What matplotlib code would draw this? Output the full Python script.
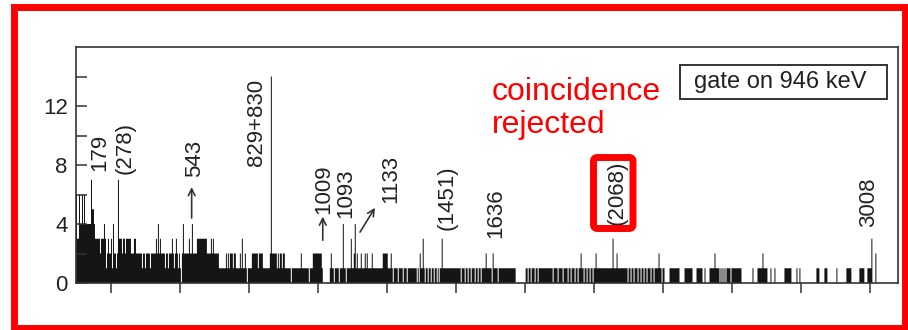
import numpy as np
import matplotlib
matplotlib.use("Agg")
import matplotlib.pyplot as plt
from matplotlib.patches import Rectangle, FancyBboxPatch

plt.rcParams['font.family'] = ['Liberation Sans', 'DejaVu Sans']

# Gamma-ray spectrum in coincidence with the 946 keV gate
bin_start_kev = 123.0
bin_width_kev = 3.62

# counts per bin, one digit per bin, starting at bin_start_kev
counts_digits = "".join([
    "6336446464", "4444455543", "3333233343", "1232231422", "1223332332",
    "3333322233", "2222221221", "2222122222", "3242322221", "2212223212",
    "3212102422", "2223222222", "2333333333", "3222232322", "2221111111",
    "2121222122", "1111213112", "1011112222", "2212222111", "1111222222",
    "2121221221", "1111101111", "1111121111", "1110111222", "2222221000",
    "0000121101", "1110111011", "0111131121", "1211121112", "1211112111",
    "1111111222", "2211121011", "1101111011", "1011111111", "1010211310",
    "1101101101", "1010111111", "1111111111", "1111101110", "1101101110",
    "1101101111", "2111110111", "1101111111", "1111111111", "0000000000",
    "1101101110", "1101111111", "1111111011", "1101111011", "1101101110",
    "1101121101", "1011011011", "2111111111", "1111111111", "1211111111",
    "1101101101", "1101101101", "1011101101", "1112110110", "0000111111",
    "1111000001", "1111111000", "0111111001", "0000111112", "1111010101",
    "0111101111", "1111110000", "0000000100", "0011111211", "1100010001",
    "0000000001", "1111110000", "0100100000", "0000000000", "0111000001",
    "1100000000", "0100000000", "0111110000", "0000111110", "0011111000",
    "2000000000", "000000000000",
])

# labelled transitions (keV) and their peak counts
peak_energy = [179, 278, 543, 830, 1009, 1093, 1133, 1451, 1636, 2068, 3008]
peak_counts = [7, 7, 4, 14, 2, 4, 4, 3, 2, 3, 3]
peak_labels = ["179", "(278)", "543", "829+830", "1009", "1093", "1133",
               "(1451)", "1636", "(2068)", "3008"]
# label anchor (energy, count) for each rotated label
label_x = [210, 301, 551, 778, 1022, 1101, 1264, 1469, 1644, 2082, 2996]
label_y = [7.6, 7.4, 7.2, 7.9, 4.7, 4.4, 5.4, 3.6, 3.05, 3.9, 3.8]

xmin, xmax = 123, 3101
ymin, ymax = 0, 16
x_major = [250, 500, 750, 1000, 1250, 1500, 1750, 2000, 2250, 2500, 2750, 3000]
y_major = [0, 4, 8, 12]
y_minor = [2, 6, 10, 14]

counts = np.array([int(c) for c in counts_digits], dtype=float)
edges = bin_start_kev + bin_width_kev * np.arange(len(counts) + 1)
idx = np.digitize(peak_energy, edges) - 1
counts[idx] = peak_counts

W, H = 908, 330
fig = plt.figure(figsize=(W / 100, H / 100), dpi=100)
ax = fig.add_axes([76 / W, (H - 283) / H, (898 - 76) / W, (283 - 47) / H])

ax.stairs(counts, edges, fill=True, color='#151515', linewidth=0)

ax.set_xlim(xmin, xmax)
ax.set_ylim(ymin, ymax)
ax.set_xticks(x_major)
ax.set_xticklabels([])
ax.set_yticks(y_major)
ax.set_yticks(y_minor, minor=True)
ax.tick_params(axis='y', which='both', direction='in', length=8, width=1.1,
               colors='#333333', labelsize=16, pad=6, labelcolor='#222222')
ax.tick_params(axis='x', which='major', direction='out', length=7, width=1.1,
               colors='#333333')
for s in ax.spines.values():
    s.set_color('#333333')
    s.set_linewidth(1.2)

# rotated peak labels
for lx, ly, txt in zip(label_x, label_y, peak_labels):
    ax.text(lx, ly, txt, rotation=90, ha='center', va='bottom',
            fontsize=16, color='#222222')

arrow_kw = dict(arrowstyle='->', lw=1.2, color='#333333', mutation_scale=12,
                shrinkA=0, shrinkB=0)
ax.annotate('', xy=(542, 6.5), xytext=(542, 4.4), arrowprops=arrow_kw)
ax.annotate('', xy=(1017, 4.5), xytext=(1017, 2.9), arrowprops=arrow_kw)
ax.annotate('', xy=(1206, 5.1), xytext=(1152, 3.45), arrowprops=arrow_kw)

# gate legend box
ax.add_patch(Rectangle((0.735, 0.778), 0.252, 0.146, transform=ax.transAxes,
                       fill=False, edgecolor='#333333', linewidth=1.4))
ax.text(0.857, 0.851, "gate on 946 keV", transform=ax.transAxes,
        ha='center', va='center', fontsize=17, color='#222222')

# red highlight of the rejected line
fig.patches.append(FancyBboxPatch((5.935, 1.015), 0.395, 0.71,
                                  boxstyle="round,pad=0,rounding_size=0.04",
                                  transform=fig.dpi_scale_trans, fill=False,
                                  edgecolor='#ff0000', linewidth=5))
fig.text(4.92, 2.53, "coincidence\nrejected", transform=fig.dpi_scale_trans,
         ha='left', va='top', fontsize=23, color='#ff0000', linespacing=1.15)

# outer red frame
fig.patches.append(Rectangle((0.14, 0.02), 8.91, 3.215,
                             transform=fig.dpi_scale_trans, fill=False,
                             edgecolor='#ff0000', linewidth=5))

fig.savefig("out.png", dpi=100)
